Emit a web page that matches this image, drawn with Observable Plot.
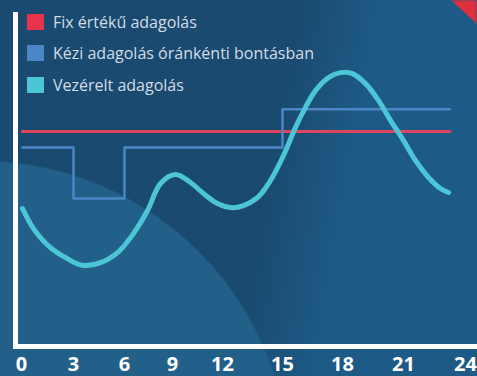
<!DOCTYPE html>
<html>
<head>
<meta charset="utf-8">
<script src="https://cdn.jsdelivr.net/npm/d3@7"></script>
<script src="https://cdn.jsdelivr.net/npm/@observablehq/plot@0.6"></script>
<style>
  html, body { margin: 0; padding: 0; }
  body {
    width: 477px; height: 376px; overflow: hidden; position: relative;
    font-family: "Open Sans", sans-serif;
    background:
      radial-gradient(circle at -20px 470px, #22608a 0, #22608a 308px, rgba(0,0,0,0) 310px),
      linear-gradient(100deg, #1a4a70 0%, #1a4a70 55%, #1d5a85 70%, #1d5b86 100%);
  }
  #corner {
    position: absolute; right: 0; top: 0; width: 26px; height: 24px;
    background: #e0303c; clip-path: polygon(0 0, 100% 0, 100% 100%);
    filter: blur(1.5px);
  }
  #legend { position: absolute; left: 27px; top: 6px; }
  #legend .row { display: flex; align-items: center; height: 31.5px; }
  #legend .sw { width: 17px; height: 16px; margin-right: 9px; flex: none; }
  #legend .lb { color: #d3dde7; font-size: 16px; white-space: nowrap; }
  #chart { position: absolute; left: 0; top: 0; }
</style>
</head>
<body>
<div id="corner"></div>
<div id="chart"></div>
<div id="legend"></div>
<script>
// Hours of the day shown on the axis
const hourTicks = [0, 3, 6, 9, 12, 15, 18, 21, 24];

// Series names and colours
const seriesNames = ["Fix értékű adagolás", "Kézi adagolás óránkénti bontásban", "Vezérelt adagolás"];
const seriesColors = ["#e0455e", "#4b87c7", "#4cc6d6"];

// Fixed dosing: one constant level all day
const fixHours = [0.05, 23.25];
const fixValues = [64.4, 64.4];

// Manual dosing, set hour by hour (step levels)
const manualHours = [0.05, 3, 6, 15, 23.25];
const manualValues = [59.6, 44.3, 59.6, 71, 71];

// Controlled dosing, following the demand
const controlledHours = [0.06, 0.69, 1.67, 2.65, 3.53, 4.59, 5.59, 6.56, 7.44, 8.25, 9.18, 10.08, 10.86, 11.7, 12.4, 13.05, 13.8, 14.4, 15.05, 15.65, 16.15, 16.65, 17.3, 17.9, 18.49, 19.13, 19.77, 20.36, 21.0, 21.58, 22.21, 22.79, 23.18];
const controlledValues = [41.3, 35.3, 29.6, 26.3, 24.3, 25.1, 28.1, 33.8, 40.7, 48.8, 51.5, 49.1, 45.8, 42.8, 41.6, 42.2, 44.9, 49.7, 57.2, 65.6, 71.6, 76.6, 80.5, 82.0, 81.7, 78.7, 73.7, 67.7, 61.7, 55.7, 50.6, 47.3, 46.1];

const fixData = fixHours.map((h, i) => ({hour: h, value: fixValues[i]}));
const manualData = manualHours.map((h, i) => ({hour: h, value: manualValues[i]}));
const controlledData = controlledHours.map((h, i) => ({hour: h, value: controlledValues[i]}));

// The hour axis is drawn unevenly: each 3-hour block gets its own width
const hourWarp = d3.scaleLinear()
  .domain(hourTicks)
  .range([21, 73, 124, 172, 222, 282, 342, 403, 465]);

const chart = Plot.plot({
  width: 477,
  height: 376,
  marginLeft: 13,
  marginRight: 0,
  marginTop: 12,
  marginBottom: 30,
  style: {background: "transparent", color: "#ffffff", fontFamily: "Open Sans, sans-serif"},
  x: {type: "linear", transform: hourWarp, domain: [21, 465], range: [21, 465], axis: null},
  y: {domain: [0, 100], axis: null},
  marks: [
    Plot.line(fixData, {x: "hour", y: "value", stroke: seriesColors[0], strokeWidth: 3}),
    Plot.line(manualData, {x: "hour", y: "value", curve: "step-after", stroke: seriesColors[1], strokeWidth: 2.5}),
    Plot.line(controlledData, {x: "hour", y: "value", curve: "catmull-rom", stroke: seriesColors[2], strokeWidth: 5}),
    Plot.ruleX([0], {dx: -6, stroke: "#ffffff", strokeWidth: 5}),
    Plot.ruleY([0], {stroke: "#ffffff", strokeWidth: 5}),
    // hour labels under the axis line
    Plot.text(hourTicks, {x: d => d, text: d => String(d), frameAnchor: "bottom", dy: 18, lineAnchor: "middle", fill: "#ffffff", fontWeight: "bold", fontSize: 20})
  ]
});
document.getElementById("chart").appendChild(chart);

// Legend drawn over the top-left of the plot area
const legend = d3.select("#legend");
seriesNames.forEach((name, i) => {
  const row = legend.append("div").attr("class", "row");
  row.append("div").attr("class", "sw").style("background", i === 0 ? "#e8344a" : seriesColors[i]);
  row.append("div").attr("class", "lb").text(name);
});
</script>
</body>
</html>
